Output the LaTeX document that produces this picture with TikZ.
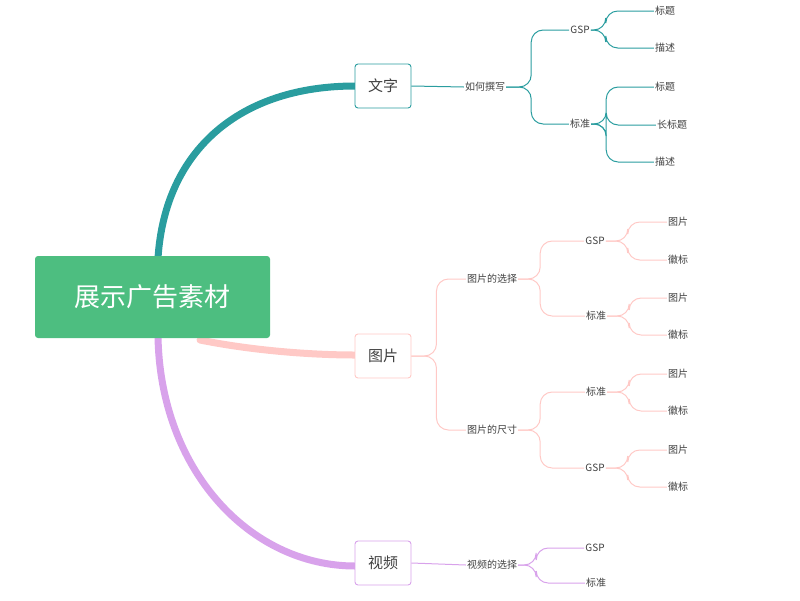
\documentclass[tikz,border=0pt]{standalone}
\usepackage{fontspec}
\newfontfamily\cjk{Noto Sans CJK SC}
\begin{document}
\begin{tikzpicture}[x=1pt,y=-1pt,
  every node/.style={font=\cjk\fontsize{10}{12}\selectfont,text=black!75,inner sep=1pt},
  br/.style={draw=#1,fill=white,rounded corners=3pt,line width=0.9pt,minimum width=56pt,minimum height=44pt,font=\cjk\fontsize{15}{18}\selectfont},
  lk/.style={draw=#1,line width=1pt,rounded corners=12pt},
  thick/.style={draw=#1,line width=7pt,line cap=round}]
\definecolor{teal1}{HTML}{2A9D9F}
\definecolor{pink1}{HTML}{FFC9C6}
\definecolor{purp1}{HTML}{D8A2EB}
\definecolor{green1}{HTML}{4DBE80}
\useasboundingbox (0,0) rectangle (800,600);
% thick branches
\draw[thick=pink1] (200,340) .. controls (260,352) and (320,355) .. (355,355);
\draw[thick=teal1] (158,258) .. controls (165,150) and (240,86) .. (355,86);
\draw[thick=purp1] (158,336) .. controls (160,470) and (250,566) .. (355,566);
\node[fill=green1,rounded corners=3pt,minimum width=235pt,minimum height=82pt,text=white,font=\cjk\fontsize{26}{30}\selectfont] (root) at (152.5,297) {展示广告素材};
\node[br=teal1] (wz) at (383,86) {文字};
\node[br=pink1] (tp) at (383,356) {图片};
\node[br=purp1] (sp) at (383,563) {视频};
% text branch
\node (rh) at (485,87) {如何撰写};
\node (g1) at (580,30) {GSP};
\node (b1) at (580,124) {标准};
\node (t1) at (665,11) {标题};
\node (d1) at (665,48) {描述};
\node (t2) at (665,87) {标题};
\node (c2) at (672,125) {长标题};
\node (d2) at (665,162) {描述};
\draw[lk=teal1] (wz.east) -- (rh.west);
\foreach \c in {g1,b1} \draw[lk=teal1] (rh.east) -- ++(25,0) |- (\c.west);
\foreach \c in {t1,d1} \draw[lk=teal1] (g1.east) -- ++(15,0) |- (\c.west);
\foreach \c in {t2,c2,d2} \draw[lk=teal1] (b1.east) -- ++(15,0) |- (\c.west);
% picture branch
\node (xz) at (492,279) {图片的选择};
\node (cc) at (492,430) {图片的尺寸};
\node (g2) at (595,241) {GSP};
\node (b2) at (596,316) {标准};
\node (b3) at (596,392) {标准};
\node (g3) at (595,468) {GSP};
\node (p1) at (678,222) {图片};
\node (h1) at (678,260) {徽标};
\node (p2) at (678,298) {图片};
\node (h2) at (678,335) {徽标};
\node (p3) at (678,374) {图片};
\node (h3) at (678,411) {徽标};
\node (p4) at (678,450) {图片};
\node (h4) at (678,487) {徽标};
\foreach \c in {xz,cc} \draw[lk=pink1] (tp.east) -- ++(25,0) |- (\c.west);
\foreach \c in {g2,b2} \draw[lk=pink1] (xz.east) -- ++(22,0) |- (\c.west);
\foreach \c in {b3,g3} \draw[lk=pink1] (cc.east) -- ++(22,0) |- (\c.west);
\foreach \c in {p1,h1} \draw[lk=pink1] (g2.east) -- ++(22,0) |- (\c.west);
\foreach \c in {p2,h2} \draw[lk=pink1] (b2.east) -- ++(22,0) |- (\c.west);
\foreach \c in {p3,h3} \draw[lk=pink1] (b3.east) -- ++(22,0) |- (\c.west);
\foreach \c in {p4,h4} \draw[lk=pink1] (g3.east) -- ++(22,0) |- (\c.west);
% video branch
\node (sx) at (492,565) {视频的选择};
\node (g4) at (595,548) {GSP};
\node (b4) at (596,583) {标准};
\draw[lk=purp1] (sp.east) -- (sx.west);
\foreach \c in {g4,b4} \draw[lk=purp1] (sx.east) -- ++(18,0) |- (\c.west);
\end{tikzpicture}
\end{document}
